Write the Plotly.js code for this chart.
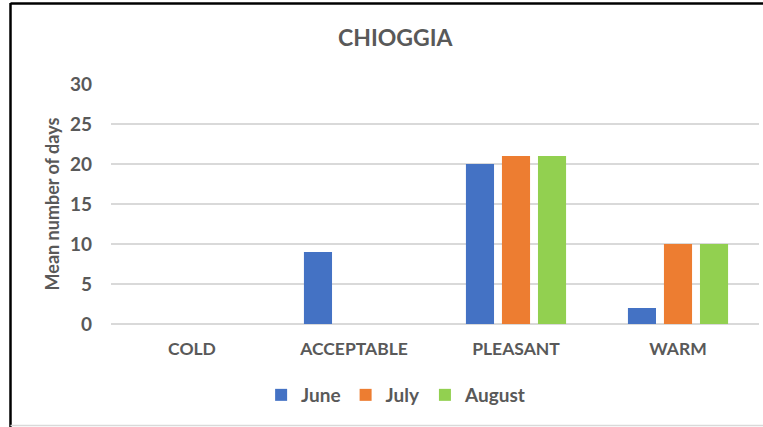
<!DOCTYPE html>
<html>
<head>
<meta charset="utf-8">
<script src="https://cdn.plot.ly/plotly-3.0.1.min.js"></script>
<style>html,body{margin:0;padding:0;background:#fff;}#chart{width:763px;height:427px;}</style>
</head>
<body>
<div id="chart"></div>
<script>
var categories = ["COLD", "ACCEPTABLE", "PLEASANT", "WARM"];
var june = [0, 9, 20, 2];
var july = [0, 0, 21, 10];
var august = [0, 0, 21, 10];
var yTicks = [0, 5, 10, 15, 20, 25, 30];

var fontFam = "Lato, 'Open Sans', sans-serif";
var grey = "#595959";

var traces = [
  {type: "bar", name: "June", x: categories, y: june, marker: {color: "#4472C4"}},
  {type: "bar", name: "July", x: categories, y: july, marker: {color: "#ED7D31"}},
  {type: "bar", name: "August", x: categories, y: august, marker: {color: "#92D050"}}
];

var W = 763, H = 427;
var layout = {
  width: W, height: H,
  paper_bgcolor: "#fff", plot_bgcolor: "#fff",
  margin: {l: 111, r: 4, t: 84, b: 103},
  barmode: "group", bargap: 0.333, bargroupgap: 0.22,
  title: {text: "CHIOGGIA", x: 0.518, xanchor: "center", y: 1 - 38/H, yanchor: "middle",
          font: {family: fontFam, size: 23, color: grey, weight: "bold"}},
  xaxis: {type: "category", showgrid: false, showline: false, zeroline: false, ticks: "",
          tickfont: {family: fontFam, size: 17.5, color: grey, weight: "bold"}, ticklabelstandoff: 12},
  yaxis: {range: [0, 30], tickvals: yTicks, ticktext: yTicks.map(String), showgrid: true, gridcolor: "#d9d9d9", gridwidth: 1.5,
          zeroline: true, zerolinecolor: "#d9d9d9", zerolinewidth: 1.5, showline: false, ticks: "",
          ticklabelstandoff: 18,
          tickfont: {family: fontFam, size: 19, color: grey, weight: "bold"},
          title: {text: "Mean number of days", standoff: 5, font: {family: fontFam, size: 18, color: grey, weight: "bold"}}},
  legend: {orientation: "h", x: 0.44, xanchor: "center", y: 1 - 395/H, yref: "container", yanchor: "middle",
           font: {family: fontFam, size: 19, color: grey, weight: "bold"}, itemwidth: 30, traceorder: "normal"},
  shapes: [
    {type: "line", xref: "paper", yref: "paper", x0: (10.5-111)/648, x1: (763-111)/648, y0: (H-103-3.5)/240, y1: (H-103-3.5)/240, line: {color: "#000", width: 2.5}},
    {type: "line", xref: "paper", yref: "paper", x0: (10.5-111)/648, x1: (10.5-111)/648, y0: (H-103-3)/240, y1: (H-103-427)/240, line: {color: "#000", width: 2.5}},
    {type: "line", xref: "paper", yref: "paper", x0: (10.5-111)/648, x1: (763-111)/648, y0: (H-103-425.5)/240, y1: (H-103-425.5)/240, line: {color: "#d9d9d9", width: 1.5}}
  ],
  showlegend: true
};
Plotly.newPlot("chart", traces, layout, {displayModeBar: false, staticPlot: true});
</script>
</body>
</html>
